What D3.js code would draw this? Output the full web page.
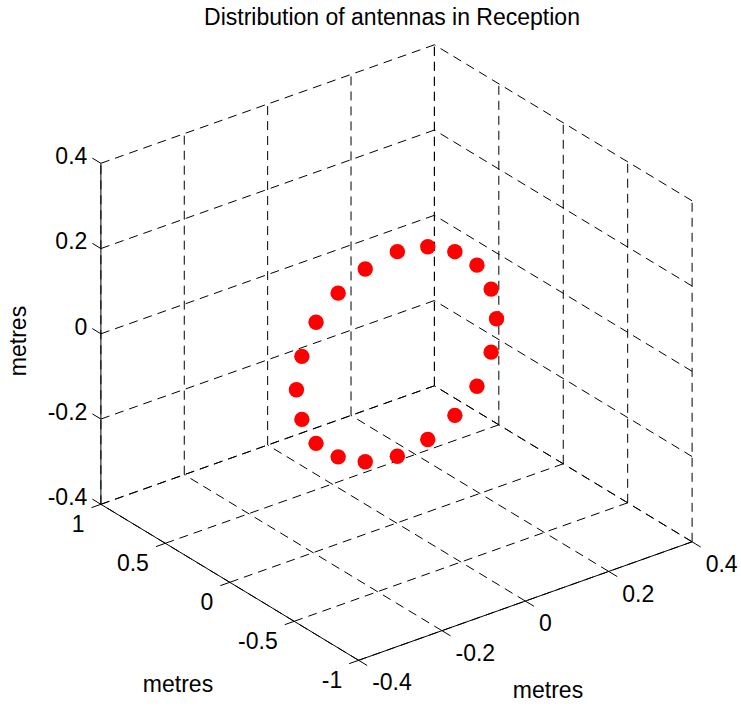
<!DOCTYPE html>
<html>
<head>
<meta charset="utf-8">
<script src="https://cdn.jsdelivr.net/npm/d3@7"></script>
<style>
  html, body { margin: 0; padding: 0; background: #fff; }
  svg { display: block; }
  text { font-family: "Liberation Sans", Arial, sans-serif; fill: #000; }
</style>
</head>
<body>
<svg id="chart" width="741" height="708"></svg>
<script>
// Antenna positions (metres): a ring in the x-z plane, y = 0
const antX = [0.240, 0.227, 0.193, 0.140, 0.075, 0.002, -0.075, -0.140, -0.193, -0.227,
              -0.240, -0.227, -0.193, -0.140, -0.075, 0.002, 0.075, 0.140, 0.193, 0.227];
const antY = [0, 0, 0, 0, 0, 0, 0, 0, 0, 0, 0, 0, 0, 0, 0, 0, 0, 0, 0, 0];
const antZ = [-0.004, 0.070, 0.138, 0.188, 0.222, 0.236, 0.222, 0.188, 0.138, 0.070,
              -0.004, -0.078, -0.146, -0.196, -0.230, -0.244, -0.230, -0.196, -0.146, -0.078];

const xTicks = [-0.4, -0.2, 0, 0.2, 0.4];
const yTicks = [-1, -0.5, 0, 0.5, 1];
const zTicks = [-0.4, -0.2, 0, 0.2, 0.4];
const xTickLabels = ["-0.4", "-0.2", "0", "0.2", "0.4"];
const yTickLabels = ["-1", "-0.5", "0", "0.5", "1"];
const zTickLabels = ["-0.4", "-0.2", "0", "0.2", "0.4"];

const titleText = "Distribution of antennas in Reception";
const axisTitle = "metres";

// Linear scales map data to [0,1] along each box edge
const sx = d3.scaleLinear().domain([-0.4, 0.4]).range([0, 1]);
const sy = d3.scaleLinear().domain([-1, 1]).range([0, 1]);
const sz = d3.scaleLinear().domain([-0.4, 0.4]).range([0, 1]);

// Orthographic view: screen position of the (xmin, ymin, zmin) corner and edge vectors
const origin = [358.6, 660.3];
const ex = [333.5, -118.5];
const ey = [-257.7, -156.0];
const ez = [0, -341.0];

function proj(x, y, z) {
  const a = sx(x), b = sy(y), c = sz(z);
  return [origin[0] + a * ex[0] + b * ey[0] + c * ez[0],
          origin[1] + a * ex[1] + b * ey[1] + c * ez[1]];
}
function unit(v) { const l = Math.hypot(v[0], v[1]); return [v[0] / l, v[1] / l]; }

const svg = d3.select("#chart");
const gGrid = svg.append("g")
  .attr("fill", "none").attr("stroke", "#000").attr("stroke-width", 1)
  .attr("stroke-dasharray", "9,6");

const [x0, x1] = sx.domain(), [y0, y1] = sy.domain(), [z0, z1] = sz.domain();
const seg = (p, q) => gGrid.append("line")
  .attr("x1", p[0]).attr("y1", p[1]).attr("x2", q[0]).attr("y2", q[1]);

// Back wall at y = ymax
xTicks.forEach(x => seg(proj(x, y1, z0), proj(x, y1, z1)));
zTicks.forEach(z => seg(proj(x0, y1, z), proj(x1, y1, z)));
// Side wall at x = xmax
yTicks.forEach(y => seg(proj(x1, y, z0), proj(x1, y, z1)));
zTicks.forEach(z => seg(proj(x1, y0, z), proj(x1, y1, z)));
// Floor at z = zmin
xTicks.forEach(x => seg(proj(x, y0, z0), proj(x, y1, z0)));
yTicks.forEach(y => seg(proj(x0, y, z0), proj(x1, y, z0)));

// Solid axis lines
const gAxes = svg.append("g").attr("stroke", "#000").attr("stroke-width", 1).attr("fill", "none");
const solid = (p, q) => gAxes.append("line")
  .attr("x1", p[0]).attr("y1", p[1]).attr("x2", q[0]).attr("y2", q[1]);
solid(proj(x0, y0, z0), proj(x1, y0, z0));   // x axis
solid(proj(x0, y0, z0), proj(x0, y1, z0));   // y axis
solid(proj(x0, y1, z0), proj(x0, y1, z1));   // z axis

const tickLen = 10;
const fs = 23;
const gLabels = svg.append("g").attr("font-size", fs);

// x axis ticks point toward -y
const dX = unit([-ey[0], -ey[1]]);
xTicks.forEach((x, i) => {
  const p = proj(x, y0, z0);
  const q = [p[0] + dX[0] * tickLen, p[1] + dX[1] * tickLen];
  solid(p, q);
  gLabels.append("text").attr("x", q[0] + 5).attr("y", q[1] + 25)
    .attr("text-anchor", "start").text(xTickLabels[i]);
});

// y axis ticks point toward -x
const dY = unit([-ex[0], -ex[1]]);
yTicks.forEach((y, i) => {
  const p = proj(x0, y, z0);
  const q = [p[0] + dY[0] * tickLen, p[1] + dY[1] * tickLen];
  solid(p, q);
  gLabels.append("text").attr("x", q[0] - 7).attr("y", q[1] + 24)
    .attr("text-anchor", "end").text(yTickLabels[i]);
});

// z axis ticks point toward +y
const dZ = unit(ey);
zTicks.forEach((z, i) => {
  const p = proj(x0, y1, z);
  const q = [p[0] + dZ[0] * tickLen, p[1] + dZ[1] * tickLen];
  solid(p, q);
  gLabels.append("text").attr("x", q[0] - 5).attr("y", q[1] - 2)
    .attr("dy", "0.35em").attr("text-anchor", "end").text(zTickLabels[i]);
});

// Antenna markers
svg.append("g").selectAll("circle")
  .data(d3.range(antX.length))
  .join("circle")
  .attr("cx", i => proj(antX[i], antY[i], antZ[i])[0])
  .attr("cy", i => proj(antX[i], antY[i], antZ[i])[1])
  .attr("r", 7.7)
  .attr("fill", "#ff0000");

// Titles
svg.append("text").attr("x", 392).attr("y", 25).attr("text-anchor", "middle")
  .attr("font-size", fs).text(titleText);
svg.append("text").attr("x", 548).attr("y", 698).attr("text-anchor", "middle")
  .attr("font-size", fs).text(axisTitle);
svg.append("text").attr("x", 178).attr("y", 692).attr("text-anchor", "middle")
  .attr("font-size", fs).text(axisTitle);
svg.append("text").attr("transform", "translate(26,341) rotate(-90)")
  .attr("text-anchor", "middle").attr("font-size", fs).text(axisTitle);
</script>
</body>
</html>
